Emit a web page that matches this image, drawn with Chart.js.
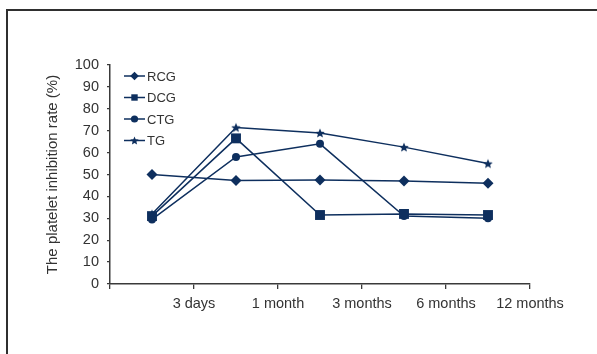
<!DOCTYPE html>
<html>
<head>
<meta charset="utf-8">
<script src="https://cdn.jsdelivr.net/npm/chart.js@4/dist/chart.umd.min.js"></script>
<style>
  html, body { margin: 0; padding: 0; background: #fff; overflow: hidden; }
  #wrap { position: relative; width: 597px; height: 354px; overflow: hidden; }
  #frame { position: absolute; left: 6px; top: 9px; width: 700px; height: 400px;
           border-left: 2px solid #2f2f2f; border-top: 2px solid #2f2f2f; box-sizing: border-box; }
  canvas { position: absolute; left: 0; top: 0; }
</style>
</head>
<body>
<div id="wrap">
  <div id="frame"></div>
  <canvas id="c" width="597" height="354"></canvas>
</div>
<script>
// ---- data ----
const categories = ["3 days", "1 month", "3 months", "6 months", "12 months"];
const seriesNames = ["RCG", "DCG", "CTG", "TG"];
const rcg = [50, 47.3, 47.5, 47, 46];
const dcg = [31, 66.5, 31.5, 32, 31.5];
const ctg = [29.5, 58, 64, 31, 30];
const tg  = [32, 71.5, 69, 62.5, 55];
const yTicks = [0, 10, 20, 30, 40, 50, 60, 70, 80, 90, 100];
const yTitle = "The platelet inhibition rate (%)";

// ---- style ----
const NAVY = "#0e2f5e";
const AXIS = "#3a3a3a";
const TEXT = "#333333";
const FONT = "'Liberation Sans', Arial, sans-serif";

function makeStar(R) {
  const s = Math.ceil(R * 2 + 2);
  const cv = document.createElement('canvas');
  cv.width = s; cv.height = s;
  const g = cv.getContext('2d');
  drawStar(g, s / 2, s / 2 + R * 0.1, R);
  return cv;
}
function drawStar(g, cx, cy, R) {
  const r = R * 0.45;
  g.beginPath();
  for (let i = 0; i < 10; i++) {
    const a = -Math.PI / 2 + i * Math.PI / 5;
    const rr = i % 2 === 0 ? R : r;
    const x = cx + Math.cos(a) * rr, y = cy + Math.sin(a) * rr;
    if (i === 0) g.moveTo(x, y); else g.lineTo(x, y);
  }
  g.closePath();
  g.fillStyle = NAVY;
  g.fill();
}
const starBig = makeStar(5);

function ds(label, data, style, radius) {
  return {
    label, data,
    borderColor: NAVY, backgroundColor: NAVY,
    borderWidth: 1.5,
    pointStyle: style, pointRadius: radius, pointHoverRadius: radius,
    pointBorderWidth: 0, pointBackgroundColor: NAVY, pointBorderColor: NAVY,
    tension: 0, fill: false
  };
}

const legendPlugin = {
  id: 'inlineLegend',
  afterDraw(chart) {
    const ctx = chart.ctx;
    const a = chart.chartArea;
    const x0 = a.left + 14, y0 = a.top + 11, step = 21.5;
    ctx.save();
    chart.data.datasets.forEach((d, i) => {
      const y = y0 + i * step;
      ctx.strokeStyle = NAVY; ctx.lineWidth = 1.5;
      ctx.beginPath(); ctx.moveTo(x0, y); ctx.lineTo(x0 + 21, y); ctx.stroke();
      const cx = x0 + 10.5;
      ctx.fillStyle = NAVY;
      ctx.beginPath();
      if (i === 0) { const r = 4.3; ctx.moveTo(cx, y - r); ctx.lineTo(cx + r, y); ctx.lineTo(cx, y + r); ctx.lineTo(cx - r, y); ctx.closePath(); ctx.fill(); }
      else if (i === 1) { ctx.fillRect(cx - 3.2, y - 3.2, 6.4, 6.4); }
      else if (i === 2) { ctx.arc(cx, y, 3.6, 0, Math.PI * 2); ctx.fill(); }
      else { drawStar(ctx, cx, y + 0.4, 4.4); }
      ctx.fillStyle = TEXT;
      ctx.font = "13px " + FONT;
      ctx.textBaseline = 'middle';
      ctx.textAlign = 'left';
      ctx.fillText(d.label, x0 + 23, y + 1);
    });
    ctx.restore();
  }
};

new Chart(document.getElementById('c'), {
  type: 'line',
  data: {
    labels: categories,
    datasets: [
      ds(seriesNames[0], rcg, 'rectRot', 5.5),
      ds(seriesNames[1], dcg, 'rect', 7),
      ds(seriesNames[2], ctg, 'circle', 4),
      ds(seriesNames[3], tg, starBig, 5)
    ]
  },
  options: {
    responsive: false,
    animation: false,
    events: [],
    layout: { padding: { left: 40, top: 65, right: 67, bottom: 0 } },
    plugins: { legend: { display: false }, tooltip: { enabled: false } },
    scales: {
      x: {
        type: 'category',
        offset: true,
        afterFit(s) { s.height = 70; },
        grid: { offset: true, drawOnChartArea: false, drawTicks: true, tickLength: 5, color: AXIS, lineWidth: 1.3 },
        border: { display: true, color: AXIS, width: 1.5 },
        ticks: { color: TEXT, font: { size: 14.5, family: FONT }, padding: 6, labelOffset: 42, maxRotation: 0, autoSkip: false }
      },
      y: {
        min: 0, max: 100,
        afterFit(s) { s.width = 70; },
        afterBuildTicks(s) { s.ticks = yTicks.map(v => ({ value: v })); },
        grid: { drawOnChartArea: false, drawTicks: true, tickLength: 3, color: AXIS, lineWidth: 1.3 },
        border: { display: true, color: AXIS, width: 1.5 },
        ticks: { color: TEXT, font: { size: 14.5, family: FONT }, padding: 8, autoSkip: false, stepSize: 10 },
        title: { display: true, text: yTitle, color: TEXT, font: { size: 15, family: FONT }, padding: { top: 4, bottom: 4 } }
      }
    }
  },
  plugins: [legendPlugin]
});
</script>
</body>
</html>
